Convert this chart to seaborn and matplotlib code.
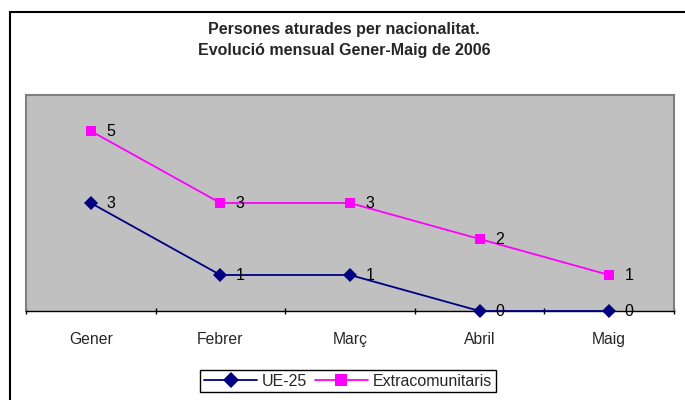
import matplotlib
matplotlib.use("Agg")
import matplotlib.pyplot as plt
import matplotlib.patches as mpatches
import seaborn as sns
import pandas as pd

months = ["Gener", "Febrer", "Març", "Abril", "Maig"]
ue25 = [3, 1, 1, 0, 0]
extra = [5, 3, 3, 2, 1]
series_names = ["UE-25", "Extracomunitaris"]
title = "Persones aturades per nacionalitat.\nEvolució mensual Gener-Maig de 2006"

sns.set_theme(style="white")
plt.rcParams["font.family"] = ["Liberation Sans", "DejaVu Sans"]

df = pd.DataFrame({
    "mes": months * 2,
    "valor": ue25 + extra,
    "serie": [series_names[0]] * len(months) + [series_names[1]] * len(months),
})
df["pos"] = list(range(len(months))) * 2

fig = plt.figure(figsize=(6.85, 4.0), dpi=100)
ax = fig.add_axes([26 / 685, 1 - 311 / 400, 648 / 685, 216 / 400])
ax.set_facecolor("#C0C0C0")

colors = {series_names[0]: "#000080", series_names[1]: "#FF00FF"}
markers = {series_names[0]: "D", series_names[1]: "s"}
sns.lineplot(data=df, x="pos", y="valor", hue="serie", style="serie",
             palette=colors, markers=markers, dashes=False, markersize=7,
             linewidth=1.3, markeredgewidth=0, ax=ax, legend=True, clip_on=False,
             zorder=3)

for s, vals in zip(series_names, [ue25, extra]):
    for i, v in enumerate(vals):
        ax.annotate(str(v), (i, v), xytext=(11, 0), textcoords="offset points",
                    ha="left", va="center", fontsize=11.5, color="black", zorder=4)

ax.set_xlim(-0.5, len(months) - 0.5)
ax.set_ylim(0, 6)
ax.set_yticks([])
ax.set_xlabel("")
ax.set_ylabel("")

ax.set_xticks([i - 0.5 for i in range(len(months) + 1)])
ax.set_xticklabels([])
ax.set_xticks(range(len(months)), minor=True)
ax.set_xticklabels(months, minor=True, fontsize=11.3)
ax.tick_params(axis="x", which="major", length=5, width=1, color="black",
               direction="inout", bottom=True)
ax.tick_params(axis="x", which="minor", length=0, pad=15)

for side in ["top", "right", "left"]:
    ax.spines[side].set_color("#808080")
    ax.spines[side].set_linewidth(1.5)
ax.spines["bottom"].set_color("black")
ax.spines["bottom"].set_linewidth(1)

fig.text(344 / 685, 1 - 40 / 400, title, ha="center", va="center",
         fontsize=11.5, fontweight="bold", linespacing=1.55)

handles, labels = ax.get_legend_handles_labels()
for h in handles:
    h.set_markersize(8)
ax.legend(handles, labels, loc="center", bbox_to_anchor=(348 / 685, 1 - 381 / 400),
          bbox_transform=fig.transFigure, ncol=2, fontsize=11.5, frameon=True,
          fancybox=False, edgecolor="black", framealpha=1, handlelength=3.3,
          columnspacing=0.5, handletextpad=0.3, borderpad=0.25)
ax.get_legend().get_frame().set_linewidth(1)

border = mpatches.Rectangle((10 / 685, -0.1), 1.0, 1 - 12 / 400 + 0.1,
                            transform=fig.transFigure, fill=False,
                            edgecolor="black", linewidth=1.5, clip_on=False)
fig.patches.append(border)

fig.savefig("out.png", dpi=100, facecolor="white")
